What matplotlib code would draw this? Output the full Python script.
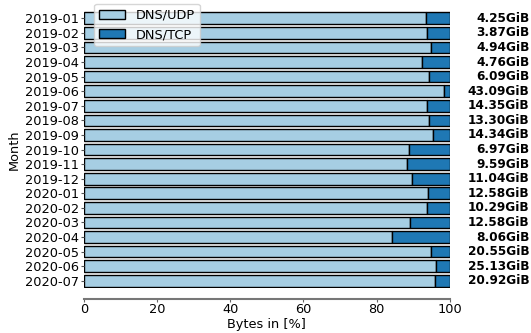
import matplotlib
matplotlib.use("Agg")
import matplotlib.pyplot as plt
import numpy as np

# Monatliche Anteile UDP/TCP in Prozent der Bytes
months = ['2019-01', '2019-02', '2019-03', '2019-04', '2019-05', '2019-06',
          '2019-07', '2019-08', '2019-09', '2019-10', '2019-11', '2019-12',
          '2020-01', '2020-02', '2020-03', '2020-04', '2020-05', '2020-06',
          '2020-07']
udp_pct = [93.4, 93.8, 95.0, 92.3, 94.4, 98.5, 93.8, 94.4, 95.4, 88.9,
           88.3, 89.7, 94.1, 93.9, 89.1, 84.2, 95.0, 96.3, 96.0]
tcp_pct = [100 - v for v in udp_pct]
totals = ['4.25GiB', '3.87GiB', '4.94GiB', '4.76GiB', '6.09GiB', '43.09GiB',
          '14.35GiB', '13.30GiB', '14.34GiB', '6.97GiB', '9.59GiB', '11.04GiB',
          '12.58GiB', '10.29GiB', '12.58GiB', '8.06GiB', '20.55GiB', '25.13GiB',
          '20.92GiB']

fs = 9.3
fig = plt.figure(figsize=(5.31, 3.33), dpi=100)
ax = fig.add_axes([0.158, 0.135, 0.689, 0.832])

y = np.arange(len(months))
ax.barh(y, udp_pct, height=0.8, color='#a6cee3', edgecolor='black', linewidth=1, label='DNS/UDP')
ax.barh(y, tcp_pct, left=udp_pct, height=0.8, color='#1f78b4', edgecolor='black', linewidth=1, label='DNS/TCP')

for yi, t in zip(y, totals):
    ax.text(121.8, yi, t, ha='right', va='center', fontsize=8.7, fontweight='bold')

ax.set_yticks(y)
ax.set_yticklabels(months, fontsize=fs)
ax.set_ylim(len(months) - 0.5, -0.5)
ax.set_xlim(0, 100)
ax.set_xticks([0, 20, 40, 60, 80, 100])
ax.tick_params(axis='x', labelsize=fs, length=2, pad=0.8, colors='#666666', labelcolor='black')
ax.tick_params(axis='y', length=2, pad=1.5, colors='#555555', labelcolor='black')

# Rahmen entfernen, nur unten nach aussen versetzt
for s in ['top', 'right', 'left']:
    ax.spines[s].set_visible(False)
ax.spines['bottom'].set_position(('outward', 8))
ax.spines['bottom'].set_color('#777777')
ax.spines['bottom'].set_linewidth(1.5)

ax.set_xlabel('Bytes in [%]', fontsize=fs, labelpad=1.5)
ax.set_ylabel('Month', fontsize=fs, labelpad=3)

ax.legend(loc='upper left', bbox_to_anchor=(0.01, 1.05), fontsize=fs, framealpha=0.8)

fig.savefig('out.png', dpi=100)
